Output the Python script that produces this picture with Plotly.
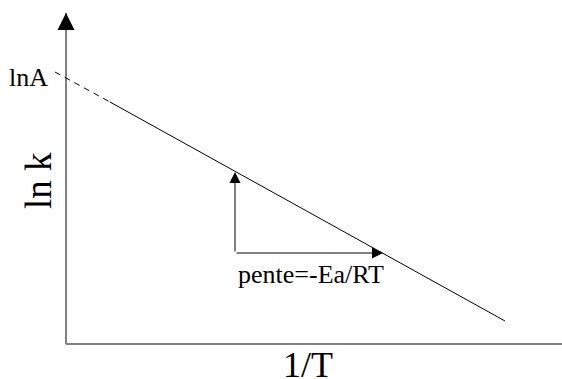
import plotly.graph_objects as go

# ---- data (in 1/T and ln k units) ----
x_extrap = [-0.11, 0.44]      # dashed extrapolation to lnA
y_extrap = [2.72, 2.42]
x_fit = [0.44, 4.39]          # solid Arrhenius line
y_fit = [2.42, 0.23]
tri_corner = [1.69, 0.91]     # slope triangle corner (x, y)
tri_top_y = 1.72              # top of the vertical arrow
tri_right_x = 3.17            # end of the horizontal arrow
axis_x_end = 5.03
axis_y_end = 3.31

FONT = "Liberation Serif, Times New Roman, Times, serif"
GRAY = "#808080"

fig = go.Figure()

# axes (gray lines)
fig.add_trace(go.Scatter(x=[0, 0], y=[0, axis_y_end], mode="lines",
                         line=dict(color=GRAY, width=2), hoverinfo="skip"))
fig.add_trace(go.Scatter(x=[0, axis_x_end], y=[0, 0], mode="lines",
                         line=dict(color=GRAY, width=2), hoverinfo="skip"))
# dashed extrapolation
fig.add_trace(go.Scatter(x=x_extrap, y=y_extrap, mode="lines",
                         line=dict(color="black", width=1, dash="6px,5px"),
                         hoverinfo="skip"))
# solid line
fig.add_trace(go.Scatter(x=x_fit, y=y_fit, mode="lines",
                         line=dict(color="black", width=1), hoverinfo="skip"))

annotations = []
# axis arrowheads (black)
annotations.append(dict(x=0, y=axis_y_end, xref="x", yref="y", ax=0, ay=12,
                        text="", showarrow=True, arrowhead=2, arrowsize=3.4,
                        arrowwidth=1, arrowcolor="black", standoff=0))
annotations.append(dict(x=axis_x_end, y=0, xref="x", yref="y", ax=-12, ay=0,
                        text="", showarrow=True, arrowhead=2, arrowsize=3.6,
                        arrowwidth=1, arrowcolor="black", standoff=0))
# slope triangle arrows
annotations.append(dict(x=tri_corner[0], y=tri_top_y, xref="x", yref="y",
                        ax=tri_corner[0], ay=tri_corner[1], axref="x", ayref="y",
                        text="", showarrow=True, arrowhead=2, arrowsize=2.2,
                        arrowwidth=1, arrowcolor="black", standoff=0))
annotations.append(dict(x=tri_right_x, y=tri_corner[1], xref="x", yref="y",
                        ax=tri_corner[0], ay=tri_corner[1], axref="x", ayref="y",
                        text="", showarrow=True, arrowhead=2, arrowsize=2.2,
                        arrowwidth=1, arrowcolor="black", standoff=0))
# labels
annotations.append(dict(x=-0.38, y=2.67, xref="x", yref="y", text="lnA",
                        showarrow=False, font=dict(family=FONT, size=26, color="black")))
annotations.append(dict(x=-0.28, y=1.63, xref="x", yref="y", text="ln k",
                        textangle=-90, showarrow=False,
                        font=dict(family=FONT, size=37, color="black")))
annotations.append(dict(x=2.42, y=-0.21, xref="x", yref="y", text="1/T",
                        showarrow=False, font=dict(family=FONT, size=36, color="black")))
annotations.append(dict(x=2.45, y=0.70, xref="x", yref="y", text="pente=-Ea/RT",
                        showarrow=False, font=dict(family=FONT, size=26, color="black")))

fig.update_layout(
    width=562, height=379,
    margin=dict(l=0, r=0, t=0, b=0),
    paper_bgcolor="white", plot_bgcolor="white",
    showlegend=False,
    font=dict(family=FONT, color="black"),
    xaxis=dict(range=[-0.66, 4.96], visible=False, fixedrange=True),
    yaxis=dict(range=[-0.35, 3.44], visible=False, fixedrange=True),
    annotations=annotations,
)

fig.write_html("out.html", config={"displayModeBar": False},
               post_script="document.body.style.margin='0';")
